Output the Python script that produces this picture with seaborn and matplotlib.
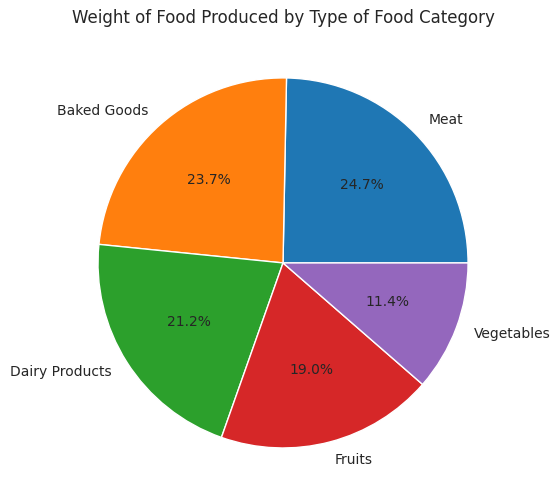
import matplotlib
matplotlib.use("Agg")
import matplotlib.pyplot as plt
import seaborn as sns

# Data
categories = ['Meat', 'Baked Goods', 'Dairy Products', 'Fruits', 'Vegetables']
weights = [24.7, 23.7, 21.2, 19.0, 11.4]

sns.set_style("whitegrid")
colors = sns.color_palette("tab10", len(categories))

fig = plt.figure(figsize=(5.6, 5.04), dpi=100)
ax = fig.add_axes([0.0924, 0.0193, 0.826, 0.918])
ax.pie(weights, labels=categories, colors=colors, autopct='%1.1f%%')
ax.set_title('Weight of Food Produced by Type of Food Category')
fig.savefig('out.png', dpi=100)
